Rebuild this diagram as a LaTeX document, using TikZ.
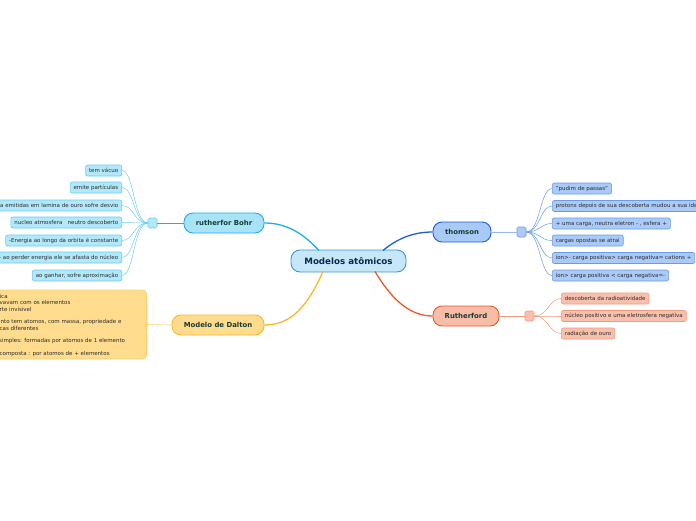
\documentclass[tikz,border=0pt]{standalone}
\usepackage{fontspec}
\setmainfont{DejaVu Sans}
\definecolor{cfill}{HTML}{C6E7F8}
\definecolor{cdraw}{HTML}{3E95D6}
\definecolor{ctext}{HTML}{0C2A4E}
\definecolor{mtext}{HTML}{173D34}
\definecolor{bfill}{HTML}{A8E3F8}
\definecolor{bdraw}{HTML}{1EAEE8}
\definecolor{blfill}{HTML}{B3E8FB}
\definecolor{bldraw}{HTML}{6CCDF2}
\definecolor{dfill}{HTML}{FEDB8D}
\definecolor{ddraw}{HTML}{F7B92A}
\definecolor{dbfill}{HTML}{FFDC8E}
\definecolor{dbdraw}{HTML}{FDCF6C}
\definecolor{tfill}{HTML}{A9C9F7}
\definecolor{tdraw}{HTML}{1B5FD6}
\definecolor{tlfill}{HTML}{AACAF8}
\definecolor{tldraw}{HTML}{6B9AE6}
\definecolor{rfill}{HTML}{F8BDA9}
\definecolor{rdraw}{HTML}{EA5A2E}
\definecolor{rlfill}{HTML}{F9C1AD}
\definecolor{rldraw}{HTML}{F29A7C}
\definecolor{ltext}{HTML}{2B2B2B}
\tikzset{
  mainbox/.style={draw, rounded corners=9pt, line width=0.9pt, minimum height=20pt, inner sep=0pt,
    font=\bfseries\fontsize{6.9}{8}\selectfont, text=mtext},
  leafbox/.style={draw, rounded corners=2pt, line width=0.6pt, minimum height=11pt, inner ysep=0pt, inner xsep=3.5pt,
    font=\fontsize{5.5}{6.5}\selectfont, text=ltext},
  bleaf/.style={leafbox, fill=blfill, draw=bldraw, anchor=east},
  tleaf/.style={leafbox, fill=tlfill, draw=tldraw, anchor=west},
  rleaf/.style={leafbox, fill=rlfill, draw=rldraw, anchor=west},
  sqbox/.style={draw, rounded corners=1.5pt, line width=0.6pt, minimum width=9pt, minimum height=10pt, inner sep=0pt},
  dtext/.style={anchor=west, inner sep=0pt, font=\fontsize{5.5}{6.5}\selectfont, text=ltext},
}
\begin{document}
\begin{tikzpicture}[x=1pt,y=-1pt]
\useasboundingbox (0,0) rectangle (696,520);
\clip (0,0) rectangle (696,520);
\fill[white] (0,0) rectangle (696,520);

% central node
\node[draw=cdraw, fill=cfill, rounded corners=9pt, line width=0.9pt, minimum width=115pt, minimum height=22pt,
  inner sep=0pt, font=\bfseries\fontsize{8.7}{10}\selectfont, text=ctext] (c) at (348.5,261) {Modelos atômicos};

% main nodes
\node[mainbox, fill=bfill, draw=bdraw, minimum width=80pt] (bohr) at (224,223) {rutherfor Bohr};
\node[mainbox, fill=dfill, draw=ddraw, minimum width=92pt] (dal) at (218,325) {Modelo de Dalton};
\node[mainbox, fill=tfill, draw=tdraw, minimum width=58pt] (thom) at (462,232) {thomson};
\node[mainbox, fill=rfill, draw=rdraw, minimum width=66pt] (ruth) at (466,316) {Rutherford};

% main connectors
\draw[bdraw, line width=1.3pt] (319,250.5) .. controls (302,232) and (285,223) .. (bohr.east);
\draw[ddraw, line width=1.3pt] (323,271.5) .. controls (308,305) and (292,325) .. (dal.east);
\draw[tdraw, line width=1.3pt] (383,250.5) .. controls (398,238) and (414,232) .. (thom.west);
\draw[rdraw, line width=1.3pt] (375,271.5) .. controls (392,300) and (410,316) .. (ruth.west);

% squares
\node[sqbox, fill=blfill, draw=bldraw] (bsq) at (152.5,223) {};
\node[sqbox, fill=tlfill, draw=tldraw] (tsq) at (521.5,232) {};
\node[sqbox, fill=rlfill, draw=rldraw] (rsq) at (529.5,316) {};
\draw[bdraw, line width=0.7pt] (bohr.west) -- (bsq.east);
\draw[tldraw!70, line width=0.7pt] (thom.east) -- (tsq.west);
\draw[rldraw, line width=0.7pt] (ruth.east) -- (rsq.west);

% Bohr leaves
\node[bleaf] (b1) at (122,170.5) {tem vácuo};
\node[bleaf] (b2) at (122,187.5) {emite partículas};
\node[bleaf, text width=140pt, align=right] (b3) at (122,205.5) {a emitidas em lamina de ouro sofre desvio};
\node[bleaf] (b4) at (122,222.5) {nucleo atmosfera \ \ neutro descoberto};
\node[bleaf] (b5) at (122,240.5) {-Energia ao longo da orbita é constante};
\node[bleaf, text width=140pt, align=right] (b6) at (122,257.5) {- ao perder energia ele se afasta do núcleo};
\node[bleaf] (b7) at (122,275.5) {ao ganhar, sofre aproximação};
\foreach \n in {b1,b2,b3,b4,b5,b6,b7}
  \draw[bldraw, line width=0.5pt] (bsq.west) .. controls +(-14,0) and +(12,0) .. (\n.east);

% thomson leaves
\node[tleaf] (t1) at (552,188.5) {"pudim de passas"};
\node[tleaf, text width=170pt, align=left] (t2) at (552,206) {protons depois de sua descoberta mudou a sua ideia};
\node[tleaf] (t3) at (552,223.5) {+ uma carga, neutra eletron - , esfera +};
\node[tleaf] (t4) at (552,240.5) {cargas opostas se atrai};
\node[tleaf] (t5) at (552,258) {ion>- carga positiva> carga negativa= cations +};
\node[tleaf] (t6) at (552,275.5) {ion> carga positiva < carga negativa=-};
\foreach \n in {t1,t2,t3,t4,t5,t6}
  \draw[tldraw, line width=0.5pt] (tsq.east) .. controls +(14,0) and +(-12,0) .. (\n.west);

% Rutherford leaves
\node[rleaf] (r1) at (561,298.5) {descoberta da radioatividade};
\node[rleaf] (r2) at (561,316) {núcleo positivo e uma eletrosfera negativa};
\node[rleaf] (r3) at (561,333.5) {radiação de ouro};
\foreach \n in {r1,r2,r3}
  \draw[rldraw, line width=0.5pt] (rsq.east) .. controls +(14,0) and +(-12,0) .. (\n.west);

% Dalton box
\node[draw=dbdraw, fill=dbfill, rounded corners=4pt, line width=0.7pt, minimum width=166pt, minimum height=69pt,
  inner sep=0pt] (dbox) at (63.5,324.5) {};
\draw[dbdraw, line width=0.6pt] (dbox.east) -- (dal.west);
\node[dtext] (d1) at (-0.5,296) {ica};
\node[dtext] (d2) at (-0.5,302.5) {vavam com os elementos};
\node[dtext] (d3) at (-0.5,309) {rte invisivel};
\node[dtext] (d4) at (0.5,321.5) {nto tem atomos, com massa, propriedade e};
\node[dtext] (d5) at (-0.5,328) {cas diferentes};
\node[dtext] (d6) at (-1,341) {simples: formadas por atomos de 1 elemento};
\node[dtext] (d7) at (-0.5,354) {composta : por atomos de + elementos};
\end{tikzpicture}
\end{document}
